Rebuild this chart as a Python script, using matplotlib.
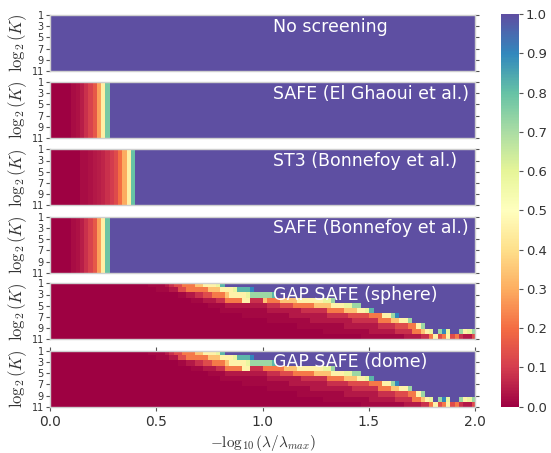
import numpy as np
import matplotlib
matplotlib.use("Agg")
import matplotlib.pyplot as plt

plt.rcParams['mathtext.fontset'] = 'cm'

# ---------------- data ----------------
n_lambda = 100
x_range = [0.0, 2.0]
log2_K_ticks = [1, 3, 5, 7, 9, 11]
cbar_ticks = [0.0, 0.1, 0.2, 0.3, 0.4, 0.5, 0.6, 0.7, 0.8, 0.9, 1.0]
titles = ["No screening", "SAFE (El Ghaoui et al.)", "ST3 (Bonnefoy et al.)",
          "SAFE (Bonnefoy et al.)", "GAP SAFE (sphere)", "GAP SAFE (dome)"]

# column profiles (same for every K) for the static rules, first 20 columns; rest = 1
safe_elghaoui_cols = [0, 0, 0, 0, 0, 0.02, 0.03, 0.05, 0.08, 0.11, 0.16, 0.28, 0.45, 0.77,
                      1, 1, 1, 1, 1, 1]
st3_cols = [0, 0, 0, 0, 0, 0, 0, 0.02, 0.02, 0.03, 0.04, 0.05, 0.06, 0.08, 0.1, 0.13,
            0.2, 0.3, 0.45, 0.8]
safe_bonnefoy_cols = [0, 0, 0, 0, 0, 0.02, 0.03, 0.05, 0.08, 0.11, 0.16, 0.28, 0.45, 0.79,
                      1, 1, 1, 1, 1, 1]

# code for the GAP SAFE grids (one string per K row, one char per lambda)
code = {'0': 0.0, '1': 0.015, '2': 0.04, '3': 0.08, '4': 0.13, '5': 0.22, '6': 0.34,
        '7': 0.46, '8': 0.58, '9': 0.72, 'T': 0.82, 'B': 0.9, 'X': 1.0}

gap_sphere_rows = [
    "0" * 23 + "1111" + "2" + "3" + "44" + "555" + "66" + "777" + "8" + "T" + "X" * 59,
    "0" * 25 + "111" + "22" + "44" + "55555" + "666" + "777" + "8" + "TTT" + "B" + "X" * 52,
    "0" * 30 + "11" + "22" + "33" + "44" + "555" + "6" + "7777" + "8" + "99999" + "T" + "X" * 47,
    "0" * 33 + "111" + "222" + "33" + "5555" + "77" + "333" + "6" + "555" + "6666" + "777777" + "88" + "9" + "X" * 33,
    "0" * 37 + "1111" + "2" * 10 + "333" + "444" + "55555" + "6666" + "777" + "88" + "99" + "X" * 27,
    "0" * 40 + "1" * 11 + "2" * 8 + "3" * 6 + "5555" + "666" + "77" + "8" + "T" + "X" * 24,
    "0" * 45 + "1" * 11 + "2" * 9 + "3" * 5 + "4" * 5 + "555" + "77" + "9" + "B" + "X" * 18,
    "0" * 51 + "1" * 10 + "2" * 10 + "3" * 6 + "555" + "66" + "77" + "9" + "X" * 15,
    "0" * 58 + "1" * 11 + "2" * 8 + "3" * 4 + "444" + "55" + "7" + "9" + "X" * 12,
    "0" * 64 + "1" * 11 + "2" * 6 + "3" * 4 + "55" + "6" + "7" + "8" + "X" + "9" + "B" + "8" + "XX" + "9" + "7" + "8" + "9",
    "0" * 73 + "1" * 10 + "2" * 4 + "33" + "5" + "7" + "4" + "5" + "7" + "4" + "5" + "3" + "22" + "4",
]

gap_dome_rows = [
    "0" * 23 + "1111" + "2" + "3" + "44" + "555" + "66" + "777" + "8" + "T" + "X" * 59,
    "0" * 25 + "111" + "22" + "44" + "55555" + "666" + "777" + "8" + "TTT" + "B" + "X" * 52,
    "0" * 30 + "11" + "22" + "33" + "44" + "555" + "6" + "7777" + "8" + "99999" + "T" + "X" * 47,
    "0" * 33 + "111" + "222" + "33" + "5555" + "77" + "333" + "5" + "555" + "5666" + "777777" + "88" + "9" + "X" * 33,
    "0" * 37 + "1111" + "2" * 10 + "333" + "444" + "55555" + "6666" + "777" + "88" + "99" + "X" * 27,
    "0" * 40 + "1" * 11 + "2" * 8 + "3" * 6 + "5555" + "666" + "77" + "8" + "T" + "X" * 24,
    "0" * 45 + "1" * 11 + "2" * 9 + "3" * 5 + "4" * 5 + "555" + "77" + "9" + "B" + "X" * 18,
    "0" * 51 + "1" * 10 + "2" * 10 + "3" * 6 + "555" + "66" + "77" + "9" + "X" * 15,
    "0" * 58 + "1" * 11 + "2" * 8 + "3" * 4 + "444" + "55" + "7" + "9" + "X" * 12,
    "0" * 64 + "1" * 11 + "2" * 6 + "3" * 4 + "55" + "6" + "7" + "8" + "X" + "9" + "B" + "8" + "XX" + "9" + "7" + "8" + "9",
    "0" * 73 + "1" * 10 + "2" * 4 + "33" + "5" + "7" + "4" + "5" + "7" + "4" + "5" + "3" + "22" + "4",
]

n_K = 11  # rows K = 1..11


def static_grid(cols):
    prof = np.ones(n_lambda)
    prof[:len(cols)] = cols
    return np.tile(prof, (n_K, 1))


def decode(rows):
    return np.array([[code[c] for c in r] for r in rows])


grids = [np.ones((n_K, n_lambda)),
         static_grid(safe_elghaoui_cols),
         static_grid(st3_cols),
         static_grid(safe_bonnefoy_cols),
         decode(gap_sphere_rows),
         decode(gap_dome_rows)]

# ---------------- figure ----------------
W, H = 551, 453
fig = plt.figure(figsize=(W / 100, H / 100), dpi=100)
text_c = '#333333'
spine_c = '#cfcfcf'

left_px, width_px, height_px = 50, 425, 56
tops_px = [15, 82, 149.3, 216.7, 283.3, 350.7]

im = None
for i, (g, t) in enumerate(zip(grids, titles)):
    top = tops_px[i]
    ax = fig.add_axes([left_px / W, 1 - (top + height_px) / H, width_px / W, height_px / H])
    im = ax.imshow(g, cmap='Spectral', vmin=0, vmax=1, aspect='auto',
                   extent=[x_range[0], x_range[1], 11, 1], interpolation='nearest')
    ax.set_yticks(log2_K_ticks)
    ax.set_ylim(11, 1)
    ax.set_xlim(*x_range)
    ax.tick_params(axis='y', left=True, right=True, direction='out', length=3, width=0.8,
                   color='#555555', labelsize=7, labelcolor=text_c, pad=1.5)
    ax.set_ylabel(r'$\log_2(K)$', fontsize=12, color=text_c, labelpad=2)
    for s in ax.spines.values():
        s.set_color(spine_c)
        s.set_linewidth(1.0)
    ax.text(0.525, 0.79, t, transform=ax.transAxes, color='white', fontsize=12.5,
            ha='left', va='center')
    if i == len(grids) - 1:
        ax.set_xticks([0.0, 0.5, 1.0, 1.5, 2.0])
        ax.tick_params(axis='x', bottom=True, top=True, direction='out', length=3, width=0.8,
                       color='#555555', labelsize=10, labelcolor=text_c, pad=3)
        ax.set_xlabel(r'$-\log_{10}(\lambda/\lambda_{max})$', fontsize=11, color=text_c, labelpad=3)
    else:
        ax.set_xticks([])

cax = fig.add_axes([500.7 / W, 1 - 406.7 / H, 18.3 / W, 392.7 / H])
cb = fig.colorbar(im, cax=cax, ticks=cbar_ticks)
cb.outline.set_visible(False)
cb.ax.tick_params(direction='out', length=3, width=0.8, color='#555555',
                  labelsize=9.5, labelcolor=text_c, pad=2)
cb.ax.set_yticklabels([f"{v:.1f}" for v in cbar_ticks])

fig.savefig('out.png', dpi=100)
